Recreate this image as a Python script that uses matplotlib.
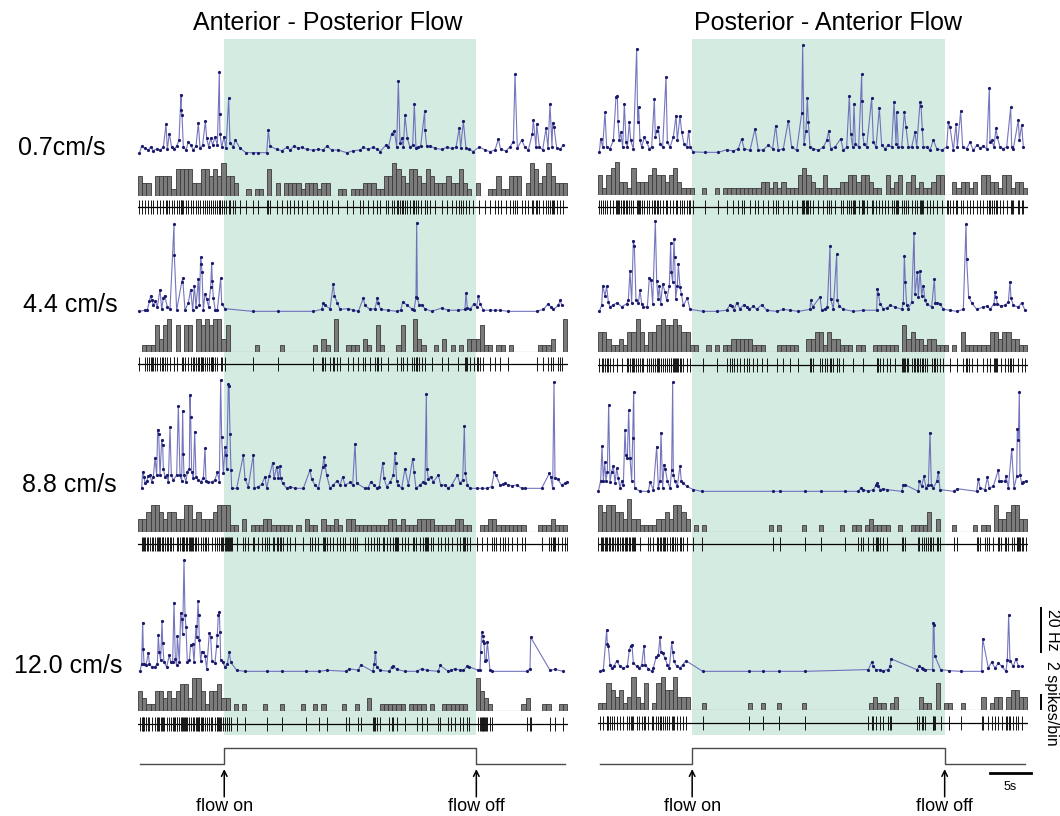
import numpy as np
import matplotlib
matplotlib.use("Agg")
import matplotlib.pyplot as plt

plt.rcParams['font.family'] = ['Liberation Sans', 'DejaVu Sans']

# ------------------------------------------------------------------ data
col_titles = ["Anterior - Posterior Flow", "Posterior - Anterior Flow"]
speed_labels = ["0.7cm/s", "4.4 cm/s", "8.8 cm/s", "12.0 cm/s"]
flow_on = [10.35, 11.3]      # s
flow_off = [40.6, 41.6]      # s
sweep = 51.6                 # s shown per trial
bin_width = 0.5              # s per histogram bin

# instantaneous firing rate: (spike time s, rate Hz)
ap_07 = [(0.16,0.3),(0.44,3.6),(0.84,2.6),(1.24,1.8),(1.52,3.3),(1.84,1.5),(2.24,2.4),(2.64,1.8),(3.04,3.0),(3.36,13.5),(3.52,2.1),(3.76,9.3),(4.04,3.0),(4.32,2.1),(4.64,3.6),(4.92,6.3),(5.16,27.0),(5.20,19.8),(5.28,17.9),(5.44,3.3),(5.76,1.8),(6.04,5.6),(6.32,4.1),(6.64,1.8),(6.96,3.6),(7.24,14.1),(7.44,2.6),(7.76,4.1),(8.08,15.0),(8.24,7.1),(8.48,3.3),(8.72,7.1),(8.96,4.1),(9.24,7.8),(9.52,4.1),(9.76,37.1),(9.80,18.3),(9.84,9.3),(10.04,3.0),(10.32,7.8),(10.56,2.6),(10.88,25.4),(11.04,5.1),(11.44,3.3),(11.68,6.3),(12.24,2.6),(12.96,0.6),(13.76,0.6),(14.44,0.6),(15.44,0.6),(15.64,10.8),(15.84,3.6),(16.64,2.1),(17.24,1.5),(17.84,3.0),(18.24,1.8),(18.72,3.6),(19.24,2.6),(19.64,3.0),(20.24,2.1),(20.96,1.8),(21.64,2.1),(22.24,1.8),(22.64,3.6),(23.24,1.8),(24.04,1.8),(25.04,0.6),(25.84,1.5),(26.64,1.8),(27.04,3.0),(27.64,2.1),(28.16,3.0),(28.64,2.4),(29.04,1.1),(29.76,4.1),(30.04,3.0),(30.44,9.3),(30.76,10.5),(31.04,3.3),(31.24,33.0),(31.44,4.8),(31.64,7.1),(31.84,3.3),(32.04,17.6),(32.32,7.1),(32.64,3.0),(32.96,4.1),(33.16,22.8),(33.36,2.6),(33.64,3.3),(33.92,3.6),(34.40,19.5),(34.44,10.8),(34.64,3.6),(35.04,3.6),(35.64,2.6),(36.44,2.1),(37.04,3.0),(37.64,2.6),(38.16,3.0),(38.56,12.0),(38.72,2.6),(39.04,14.9),(39.36,2.6),(39.76,2.1),(40.24,1.1),(40.96,3.3),(41.64,1.8),(42.24,1.1),(42.84,1.8),(43.24,6.8),(43.52,2.1),(44.16,1.4),(44.64,3.3),(45.04,5.6),(45.24,36.3),(45.52,2.6),(46.04,6.3),(46.44,3.0),(46.84,1.8),(47.32,9.3),(47.44,15.3),(47.76,3.0),(47.84,13.8),(48.16,3.3),(48.56,1.8),(48.96,11.6),(49.20,2.6),(49.44,22.8),(49.68,3.3),(49.76,14.1),(49.92,12.3),(50.24,2.6),(50.64,2.1),(51.04,4.1)]
pa_07 = [(0.16,0.3),(0.32,6.5),(0.56,2.7),(0.84,18.5),(1.04,2.7),(1.44,2.0),(1.84,5.7),(2.16,25.5),(2.32,26.0),(2.40,14.7),(2.56,5.7),(2.72,9.5),(2.96,2.7),(3.16,22.5),(3.36,5.0),(3.52,2.7),(3.76,14.0),(3.92,5.7),(4.24,2.0),(4.64,47.4),(4.76,14.0),(4.88,20.7),(5.04,5.7),(5.24,2.7),(5.56,7.2),(5.84,5.0),(6.16,2.0),(6.44,2.7),(6.76,24.5),(6.88,7.2),(7.04,10.2),(7.24,11.7),(7.44,4.2),(7.76,2.7),(8.16,34.5),(8.32,5.0),(8.64,2.7),(9.04,7.2),(9.36,17.0),(9.52,5.7),(9.84,17.0),(10.04,9.5),(10.32,4.2),(10.64,2.7),(10.88,10.2),(11.04,2.7),(11.44,0.5),(12.84,0.3),(14.44,0.3),(15.44,1.5),(16.24,0.9),(16.84,2.0),(17.24,6.5),(17.52,2.0),(18.24,1.2),(18.84,11.0),(19.24,1.2),(19.84,1.5),(20.44,3.5),(20.96,2.0),(21.32,12.5),(21.64,1.2),(22.24,2.0),(22.84,14.7),(23.24,2.7),(23.84,1.2),(24.44,18.0),(24.56,48.9),(24.72,4.2),(24.96,10.2),(25.12,25.2),(25.24,14.0),(25.44,2.7),(25.84,2.0),(26.44,1.2),(27.04,2.7),(27.44,5.7),(27.68,9.9),(27.92,2.0),(28.44,2.7),(29.12,6.5),(29.44,1.2),(29.84,2.7),(30.16,26.0),(30.32,8.7),(30.56,2.7),(30.72,22.2),(30.88,4.2),(31.28,2.7),(31.64,35.7),(31.68,23.7),(31.76,8.7),(31.92,4.2),(32.24,2.7),(32.84,24.9),(33.04,5.0),(33.36,2.7),(33.76,20.4),(34.04,3.5),(34.44,2.0),(34.84,3.5),(35.24,2.7),(35.52,23.4),(35.76,4.2),(35.84,18.5),(36.04,2.7),(36.44,2.7),(36.76,18.5),(36.96,11.7),(37.24,2.7),(37.64,2.7),(38.04,9.5),(38.24,2.7),(38.64,23.0),(38.76,21.5),(38.92,11.0),(39.04,2.7),(39.44,2.7),(39.84,1.2),(40.24,6.0),(40.64,2.0),(41.24,1.2),(41.84,2.7),(42.04,14.0),(42.24,11.7),(42.64,1.2),(42.96,13.2),(43.12,2.7),(43.52,18.9),(43.76,2.7),(44.24,2.0),(44.64,5.0),(45.04,1.2),(45.44,3.5),(45.84,2.4),(46.24,3.0),(46.64,2.0),(46.96,29.7),(47.04,5.0),(47.24,5.7),(47.52,2.7),(47.76,11.4),(47.92,7.2),(48.24,2.7),(48.64,2.0),(49.04,2.7),(49.52,20.7),(49.64,2.7),(49.84,2.0),(50.44,15.0),(50.56,5.7),(50.84,12.8),(51.04,2.7)]
ap_44 = [(0.16,0.3),(0.84,0.8),(1.12,1.1),(1.36,4.8),(1.52,7.5),(1.64,5.3),(1.84,3.3),(2.08,4.8),(2.32,2.3),(2.64,10.2),(2.84,1.2),(3.04,6.3),(3.20,7.5),(3.52,2.3),(3.84,1.2),(4.32,39.8),(4.36,25.8),(4.64,0.8),(5.24,13.5),(5.36,15.3),(5.64,0.8),(6.04,4.2),(6.32,10.2),(6.56,0.8),(6.76,11.7),(6.96,2.3),(7.24,15.0),(7.36,3.0),(7.52,24.8),(7.60,21.8),(7.68,18.0),(7.84,0.8),(8.04,8.3),(8.24,6.0),(8.48,2.3),(8.72,11.3),(8.84,22.2),(8.92,14.3),(9.04,6.3),(9.28,0.8),(9.52,0.8),(9.92,15.3),(10.04,3.8),(10.44,1.5),(13.76,0.3),(16.84,0.3),(21.04,0.3),(22.04,1.2),(22.24,4.2),(22.44,3.0),(23.04,1.5),(23.44,12.8),(23.56,7.5),(23.92,4.2),(24.24,1.2),(25.24,1.5),(25.84,0.8),(26.44,0.3),(27.04,6.3),(27.24,3.0),(27.84,1.2),(28.44,1.5),(28.72,6.3),(28.84,4.2),(29.12,1.2),(30.04,0.8),(31.04,0.3),(31.52,0.8),(31.76,4.5),(32.24,3.3),(32.84,1.5),(33.12,0.8),(33.36,6.8),(33.44,40.5),(33.52,6.3),(33.76,3.0),(34.04,3.3),(34.44,1.5),(35.24,0.3),(36.44,1.8),(37.24,0.8),(38.44,0.8),(39.24,1.2),(39.36,8.7),(39.52,1.8),(39.84,1.2),(40.32,3.8),(40.64,2.3),(40.84,7.5),(41.04,3.8),(41.44,0.8),(42.24,0.8),(42.84,0.8),(43.44,0.8),(44.44,0.3),(47.84,0.3),(48.64,1.2),(49.24,3.8),(49.52,2.3),(49.84,1.2),(50.44,3.0),(50.64,5.3),(50.84,3.3)]
pa_44 = [(0.16,0.3),(0.44,3.0),(0.56,11.7),(0.84,7.5),(1.04,11.7),(1.24,4.5),(1.44,2.3),(1.84,3.3),(2.32,4.2),(2.84,2.3),(3.44,3.8),(3.64,5.3),(3.84,18.8),(4.04,4.2),(4.24,32.3),(4.36,30.0),(4.56,5.3),(4.84,4.2),(5.04,9.8),(5.24,3.8),(5.44,2.3),(5.92,2.3),(6.16,15.3),(6.36,14.7),(6.56,3.8),(6.88,41.3),(7.04,14.3),(7.20,6.0),(7.36,11.7),(7.52,3.8),(7.76,12.8),(8.04,9.0),(8.24,5.3),(8.56,12.0),(8.72,31.5),(8.80,18.0),(8.96,13.5),(9.12,33.0),(9.20,24.8),(9.32,6.0),(9.52,12.0),(9.64,21.8),(9.84,11.3),(10.00,8.3),(10.24,3.0),(10.72,6.3),(11.04,1.2),(12.64,0.3),(14.24,0.3),(15.44,0.8),(15.84,3.3),(16.04,2.7),(16.32,0.8),(16.64,4.2),(17.04,1.5),(17.52,3.3),(17.84,2.3),(18.16,1.2),(18.64,2.7),(19.04,1.2),(19.64,3.3),(20.24,0.8),(21.44,0.3),(22.24,1.2),(23.04,0.8),(24.04,0.3),(25.44,1.2),(25.52,5.3),(25.76,2.3),(26.64,6.8),(26.84,0.8),(27.24,1.5),(27.52,2.3),(27.84,30.0),(27.92,6.0),(28.24,1.5),(28.64,26.3),(28.72,5.3),(28.96,2.7),(29.44,1.2),(30.64,0.3),(31.84,0.8),(33.44,0.8),(33.52,10.5),(33.64,8.3),(33.84,3.8),(34.24,1.5),(34.64,1.8),(35.04,3.0),(35.64,2.3),(36.44,1.2),(36.64,4.2),(36.76,25.5),(36.88,13.5),(37.04,3.3),(37.24,1.5),(37.64,4.5),(37.92,36.0),(38.04,8.3),(38.32,18.0),(38.44,6.8),(38.64,18.8),(38.84,7.5),(39.04,12.0),(39.24,5.3),(39.44,3.8),(40.04,2.3),(40.36,15.0),(40.48,4.2),(40.72,4.2),(41.04,3.8),(41.44,1.2),(42.24,0.8),(43.04,0.3),(43.84,1.2),(44.16,39.8),(44.24,24.0),(44.48,6.8),(44.84,4.2),(45.44,1.2),(46.24,2.3),(46.72,2.7),(47.04,1.2),(47.52,3.8),(47.64,9.3),(47.76,6.8),(47.92,3.8),(48.32,2.7),(48.84,3.0),(49.24,4.5),(49.44,13.8),(49.56,6.3),(49.84,3.0),(50.44,2.3),(50.84,4.2),(51.24,0.8)]
ap_88 = [(0.44,0.3),(0.56,7.8),(0.72,5.6),(0.84,2.6),(1.04,3.6),(1.24,6.0),(1.44,6.3),(1.64,3.3),(1.84,5.6),(2.04,14.1),(2.24,6.3),(2.36,27.0),(2.48,25.1),(2.64,6.3),(2.84,22.1),(2.96,19.8),(3.04,9.3),(3.24,5.6),(3.44,6.3),(3.64,3.3),(3.84,28.1),(4.00,6.3),(4.24,4.1),(4.64,6.3),(4.84,37.8),(5.04,6.3),(5.24,3.6),(5.36,35.6),(5.44,16.1),(5.52,6.3),(5.76,3.3),(5.92,7.8),(6.16,9.3),(6.24,42.6),(6.32,32.6),(6.44,7.8),(6.64,4.8),(6.80,26.1),(6.96,5.6),(7.24,4.1),(7.52,3.3),(7.84,4.8),(8.04,18.6),(8.16,3.6),(8.44,3.3),(8.84,3.0),(9.24,4.1),(9.52,7.8),(9.76,3.3),(9.92,49.5),(10.04,23.6),(10.24,7.1),(10.44,19.1),(10.56,15.3),(10.64,9.3),(10.84,47.6),(10.92,46.8),(11.04,25.1),(11.16,8.6),(11.24,0.3),(11.84,0.3),(12.64,15.3),(12.84,4.5),(13.24,1.1),(13.84,15.6),(13.96,0.3),(14.44,1.1),(14.84,2.1),(15.24,5.6),(15.44,0.3),(15.76,6.0),(16.16,12.0),(16.32,4.8),(16.64,10.1),(16.84,4.8),(17.04,10.5),(17.12,4.8),(17.36,2.6),(17.84,0.3),(18.24,1.1),(18.84,0.3),(19.84,0.3),(20.64,8.6),(20.84,4.5),(21.24,1.8),(21.64,0.3),(22.16,10.1),(22.32,14.6),(22.44,10.8),(22.64,6.3),(23.04,0.3),(23.44,1.8),(23.84,3.6),(24.24,1.8),(24.56,5.6),(24.84,1.8),(25.44,3.0),(25.76,1.8),(26.04,20.6),(26.24,2.6),(27.24,0.3),(27.64,0.6),(27.92,3.3),(28.32,1.8),(28.72,0.3),(28.96,1.1),(29.36,12.0),(29.52,4.8),(29.84,1.1),(30.24,3.0),(30.64,6.3),(30.84,16.5),(30.92,12.0),(31.04,3.6),(31.24,1.8),(31.64,0.3),(32.04,9.3),(32.44,1.8),(32.96,13.8),(33.12,7.8),(33.36,0.3),(33.84,1.8),(34.16,3.0),(34.44,2.6),(34.60,43.1),(34.68,9.3),(34.84,4.5),(35.12,5.6),(35.44,3.3),(36.04,6.3),(36.32,1.8),(36.84,1.8),(37.24,0.3),(37.64,1.8),(38.32,6.3),(38.64,2.6),(38.96,4.1),(39.16,28.8),(39.28,7.1),(39.52,1.8),(39.84,0.3),(40.64,0.3),(41.24,0.3),(41.84,0.3),(42.44,1.1),(42.76,7.8),(42.96,6.3),(43.44,1.8),(43.76,2.1),(44.04,2.6),(44.44,1.8),(44.84,1.5),(45.44,1.8),(46.04,0.3),(46.44,0.3),(48.44,0.3),(49.36,7.1),(49.52,5.6),(49.76,0.3),(49.92,48.6),(50.04,4.8),(50.36,4.5),(50.84,1.8),(51.24,2.6),(51.52,3.3)]
pa_88 = [(0.04,0.3),(0.32,5.1),(0.48,20.9),(0.64,5.1),(0.80,13.5),(0.96,5.1),(1.12,9.3),(1.28,39.6),(1.44,4.5),(1.64,9.3),(1.84,12.0),(2.04,4.1),(2.24,10.8),(2.44,6.3),(2.64,1.8),(2.84,5.1),(3.04,3.0),(3.24,28.1),(3.36,16.8),(3.52,15.3),(3.68,37.1),(3.84,15.3),(4.04,5.1),(4.16,24.6),(4.28,45.6),(4.40,1.8),(5.04,0.3),(6.04,0.3),(6.24,4.5),(6.64,1.1),(7.04,20.6),(7.24,1.8),(7.44,5.1),(7.56,27.0),(7.76,1.8),(7.92,12.3),(8.08,10.5),(8.32,5.1),(8.64,1.8),(8.84,10.1),(8.96,49.8),(9.04,7.8),(9.24,4.8),(9.52,2.6),(9.84,12.0),(10.00,4.8),(10.24,4.1),(10.64,2.6),(11.44,1.1),(12.44,0.3),(21.04,0.3),(21.84,0.3),(24.84,0.3),(26.72,0.3),(29.64,0.3),(31.24,0.3),(31.52,1.8),(31.84,1.1),(32.44,0.3),(33.04,1.1),(33.36,3.0),(33.52,4.1),(33.64,2.6),(33.84,1.1),(34.24,1.5),(34.64,1.1),(36.44,0.3),(36.64,3.0),(36.84,3.3),(38.44,0.3),(38.56,5.1),(38.84,2.6),(39.12,7.1),(39.36,1.8),(39.64,3.0),(39.84,27.0),(40.00,3.3),(40.24,1.8),(40.64,4.8),(40.84,9.3),(41.04,1.1),(42.72,0.3),(43.12,1.5),(45.44,0.3),(45.64,6.0),(45.84,1.8),(46.44,1.1),(46.72,6.6),(46.96,1.8),(47.44,2.6),(48.04,10.1),(48.16,5.1),(48.32,5.1),(48.84,4.8),(48.96,7.5),(49.24,1.8),(49.64,19.5),(49.92,1.8),(50.24,7.1),(50.32,28.8),(50.44,23.6),(50.56,45.3),(50.64,7.8),(50.84,4.1),(51.04,4.5),(51.36,5.1)]
ap_120 = [(0.24,0.3),(0.44,3.8),(0.56,22.5),(0.64,10.5),(0.72,3.8),(0.96,3.0),(1.24,8.7),(1.36,3.8),(1.64,2.3),(2.04,2.3),(2.32,3.8),(2.44,16.8),(2.56,9.0),(2.72,5.3),(2.88,23.3),(2.96,13.2),(3.12,4.5),(3.44,2.3),(3.76,7.8),(3.92,4.5),(4.16,4.5),(4.32,31.5),(4.48,5.7),(4.64,3.0),(4.72,16.2),(4.96,4.5),(5.12,27.0),(5.24,24.0),(5.36,17.3),(5.52,50.7),(5.64,25.8),(5.76,20.3),(5.92,4.5),(6.16,5.3),(6.32,12.3),(6.56,12.8),(6.72,4.5),(6.96,21.0),(7.04,15.8),(7.20,32.3),(7.28,25.8),(7.36,14.7),(7.52,4.8),(7.68,9.3),(7.84,9.3),(8.04,7.5),(8.24,1.5),(8.56,17.7),(8.72,15.8),(8.88,4.8),(9.24,4.2),(9.44,12.0),(9.52,17.0),(9.64,25.8),(9.76,27.3),(9.84,18.0),(9.92,5.3),(10.16,4.5),(10.44,2.3),(10.72,3.8),(10.96,9.0),(11.12,4.5),(11.84,0.8),(12.84,0.3),(15.44,0.3),(17.24,0.3),(20.12,0.3),(21.76,0.3),(22.64,0.8),(24.96,0.3),(25.36,1.5),(26.44,0.8),(26.72,3.3),(28.16,0.3),(28.36,3.8),(28.48,9.3),(28.64,2.3),(29.04,0.8),(30.16,0.3),(30.44,2.3),(30.64,2.7),(31.04,1.2),(32.04,0.3),(33.44,0.3),(34.04,1.5),(34.64,0.8),(36.04,0.3),(36.24,3.0),(37.24,0.3),(37.52,0.8),(38.04,1.5),(38.64,0.8),(39.04,0.8),(39.52,2.7),(39.76,2.3),(40.84,0.8),(41.04,0.8),(41.12,9.0),(41.24,18.0),(41.36,16.5),(41.44,14.3),(41.52,13.2),(41.64,4.8),(41.76,5.3),(41.92,13.8),(42.24,0.8),(42.44,0.3),(46.64,0.3),(47.04,1.5),(47.12,15.8),(49.44,0.8),(50.04,1.2),(51.04,0.3)]
pa_120 = [(0.24,0.3),(0.64,1.1),(1.04,19.1),(1.12,12.6),(1.24,11.6),(1.44,3.3),(1.64,1.8),(1.92,2.6),(2.24,5.1),(2.64,2.6),(3.04,1.8),(3.52,2.6),(3.76,10.1),(3.92,12.0),(4.08,12.3),(4.24,4.1),(4.64,2.6),(4.96,1.8),(5.24,3.0),(5.52,12.0),(5.64,3.3),(6.04,1.5),(6.44,0.3),(6.64,1.8),(6.96,6.6),(7.24,7.8),(7.44,16.1),(7.56,9.3),(7.76,8.6),(8.04,6.3),(8.32,3.3),(8.56,1.8),(8.84,13.5),(8.96,9.3),(9.12,4.8),(9.44,2.6),(9.84,1.8),(10.16,3.3),(10.56,5.1),(12.56,0.3),(18.16,0.3),(19.84,0.3),(21.76,0.3),(24.84,0.3),(32.44,1.1),(32.84,4.5),(33.04,2.6),(33.36,1.1),(33.84,1.1),(34.16,0.6),(34.84,1.1),(35.04,2.6),(35.16,6.0),(38.24,1.1),(38.56,2.6),(38.84,1.8),(39.04,1.5),(39.24,1.1),(40.16,1.1),(40.24,22.5),(40.32,21.3),(40.40,7.5),(41.12,1.1),(42.16,0.6),(43.52,0.3),(46.04,0.3),(46.16,15.0),(46.84,1.8),(47.24,4.5),(47.64,1.8),(48.04,4.1),(48.44,2.6),(48.96,0.3),(49.12,5.6),(49.28,25.8),(49.44,5.1),(49.84,2.6),(50.16,6.0),(50.44,2.6),(50.84,2.6)]

# spike counts per 0.5 s bin
ap_07_counts = [3,2,2,0,3,3,3,3,1,4, 4,4,4,2,2,4,4,3,4,3, 5,3,3,2,0,0,1,0,1,1,
                0,4,0,2,0,2,2,2,2,1, 2,2,2,1,2,2,0,0,1,1, 0,1,1,1,2,2,2,1,1,3,
                3,5,4,3,2,4,4,3,2,4, 3,2,2,2,3,2,2,4,2,1, 0,2,0,0,1,1,3,1,1,3,
                3,3,0,2,5,4,2,3,5,3, 2,2,2]
pa_07_counts = [3,1,3,4,5,2,2,1,4,2, 2,2,3,4,3,3,2,3,4,2, 1,1,1,0,0,1,0,0,1,0,
                1,1,1,1,1,1,1,1,1,2, 2,1,2,1,2,1,1,1,3,4, 3,2,1,1,3,1,1,1,2,2,
                3,3,2,3,3,2,1,1,0,3, 1,2,3,0,2,3,1,2,1,1, 2,3,3,0,0,2,1,2,2,1,
                2,0,3,3,2,2,1,3,3,1, 2,2,1]
ap_44_counts = [0,1,1,1,4,2,4,5,0,4, 0,4,4,0,5,4,5,4,5,5, 2,4,0,0,0,0,0,0,1,0,
                0,0,0,0,1,0,0,0,0,0, 0,0,1,0,2,1,0,5,0,0, 1,1,1,0,2,1,0,4,1,0,
                0,0,1,4,0,0,5,2,1,0, 0,1,0,2,0,1,0,1,0,2, 2,2,4,1,1,0,1,1,0,1,
                0,0,0,0,0,0,1,1,1,2, 0,0,5]
pa_44_counts = [3,3,2,1,1,2,1,3,3,5, 3,1,3,3,4,5,4,4,5,4, 3,3,1,1,0,0,1,0,1,0,
                1,1,2,2,2,2,2,1,1,1, 0,0,0,1,1,1,1,1,0,0, 2,2,3,3,1,3,2,2,1,1,
                1,0,1,1,0,0,1,1,1,1, 1,1,0,4,2,3,2,2,1,2, 2,1,1,1,0,1,0,3,1,1,
                1,1,1,1,3,3,2,3,3,2, 2,1,1]
ap_88_counts = [2,2,3,4,4,3,2,3,3,2, 2,4,4,2,3,2,2,2,3,4, 4,4,1,1,0,2,0,1,1,1,
                2,2,1,1,1,1,1,0,1,0, 2,1,1,0,2,1,1,2,1,0, 2,2,1,1,1,1,1,1,1,1,
                2,2,1,2,1,1,1,2,2,2, 2,1,1,1,1,1,2,2,1,1, 0,0,1,1,2,2,1,1,1,1,
                1,1,1,0,0,0,1,1,1,2, 1,1,1]
pa_88_counts = [4,3,4,4,3,3,2,5,2,2, 1,1,1,1,2,2,3,2,4,4, 3,2,0,1,0,1,0,0,0,0,
                0,0,0,0,0,0,0,0,0,0, 0,1,0,1,0,0,0,0,0,1, 0,0,0,1,0,0,0,0,1,0,
                0,1,1,0,1,2,1,1,1,1, 0,0,1,0,0,1,1,1,1,3, 0,2,0,0,0,1,0,0,0,0,
                1,0,1,1,0,4,2,2,3,4, 4,2,2]
ap_120_counts = [3,2,1,1,3,3,2,3,2,3, 4,4,2,5,5,3,1,3,3,4, 2,2,0,1,0,1,0,0,0,0,
                 1,0,0,0,1,0,0,0,0,1, 0,0,1,0,1,0,0,0,0,1, 0,0,1,0,0,2,0,0,1,1,
                 1,1,1,1,0,1,1,1,1,0, 1,0,0,1,1,1,1,1,1,0, 0,5,3,2,1,0,0,0,0,0,
                 0,0,1,2,0,0,0,1,1,0, 0,1,1]
pa_120_counts = [1,1,4,3,2,3,1,2,5,2, 1,4,0,1,4,5,3,3,5,2, 2,2,0,0,0,1,0,0,0,0,
                 0,0,0,0,0,0,1,0,0,1, 0,0,0,1,0,0,0,0,0,1, 0,0,0,0,0,0,0,0,0,0,
                 0,0,0,0,0,1,2,1,1,0, 1,2,0,0,0,0,0,2,1,1, 0,4,0,1,1,0,0,1,0,0,
                 0,0,2,0,1,2,2,0,2,3, 3,2,2]

rates = [[ap_07, ap_44, ap_88, ap_120], [pa_07, pa_44, pa_88, pa_120]]
counts = [[ap_07_counts, ap_44_counts, ap_88_counts, ap_120_counts],
          [pa_07_counts, pa_44_counts, pa_88_counts, pa_120_counts]]

# ------------------------------------------------------------------ layout (pixels)
W, H = 1060, 816
PX_S = 430 / sweep     # px per second
PX_HZ = 44 / 20        # px per Hz
PX_CNT = 6.7           # px per spike
col_x = [138, 598]
# per column, per row: (rate zero line, histogram base, raster centre)
rows_px = [[(154, 196, 207), (312, 352, 364), (489, 532, 544), (672, 711, 724)],
           [(153, 195, 207), (312, 352, 365), (492, 532, 544), (672, 710, 723)]]
label_px = [(62, 148), (70, 305), (69, 485), (68, 666)]

SHADE = '#d4ebe2'
LINE = '#5d5db3'
DOT = '#1b1b6b'
BAR = '#7b7b7b'
BAR_EDGE = '#3a3a3a'

fig = plt.figure(figsize=(W / 100, H / 100), dpi=100)


def add_px_axes(x0, top, width, height):
    ax = fig.add_axes([x0 / W, 1 - (top + height) / H, width / W, height / H])
    ax.set_axis_off()
    ax.set_xlim(0, sweep)
    return ax


for c in range(2):
    x0 = col_x[c]
    # flow period shading behind all traces of the column
    sh = add_px_axes(x0, 39, 430, 696)
    sh.set_ylim(0, 1)
    sh.axvspan(flow_on[c], flow_off[c], color=SHADE, lw=0)

    for r in range(4):
        zero_y, base_y, mid_y = rows_px[c][r]
        t = np.array([p[0] for p in rates[c][r]])
        hz = np.array([p[1] for p in rates[c][r]])

        # instantaneous frequency
        fa = add_px_axes(x0, zero_y - 130, 430, 130)
        fa.set_ylim(0, 130 / PX_HZ)
        fa.plot(t, hz, '-', color=LINE, lw=0.8, alpha=0.85, clip_on=False)
        fa.plot(t, hz, 'o', color=DOT, ms=2.3, mew=0, clip_on=False)

        # spike-count histogram
        n = np.array(counts[c][r])
        edges = np.arange(len(n)) * bin_width
        ha = add_px_axes(x0, base_y - 40, 430, 40)
        ha.set_ylim(0, 40 / PX_CNT)
        ha.axhline(0, color='#555555', lw=0.8)
        ha.bar(edges, n, width=bin_width, align='edge', color=BAR,
               edgecolor=BAR_EDGE, linewidth=0.6)

        # spike raster
        ra = add_px_axes(x0, mid_y - 8, 430, 16)
        ra.set_ylim(-1, 1)
        ra.axhline(0, color='black', lw=0.9)
        ra.vlines(t, -0.9, 0.9, color='#151515', lw=0.7)

        if c == 1 and r == 3:
            # calibration bars
            xs = (1041 - x0) / PX_S
            fa.plot([xs, xs], [9, 29], color='black', lw=1.4, clip_on=False)
            fa.text((1052 - x0) / PX_S, (zero_y - 630) / PX_HZ, '20 Hz',
                    rotation=270, ha='center', va='center', fontsize=11.5)
            ha.plot([xs, xs], [0.2, 2.2], color='black', lw=1.4, clip_on=False)
            ha.text((1052 - x0) / PX_S, (base_y - 703) / PX_CNT, '2 spikes/bin',
                    rotation=270, ha='center', va='center', fontsize=11.5)

    # stimulus (flow) trace
    st = add_px_axes(x0, 740, 430, 76)
    st.set_ylim(-3.25, 1.5)
    st.plot([0.25, flow_on[c], flow_on[c], flow_off[c], flow_off[c], sweep - 0.4],
            [0, 0, 1, 1, 0, 0], color='#4a4a4a', lw=1.0, clip_on=False)
    for xt, lab in ((flow_on[c], 'flow on'), (flow_off[c], 'flow off')):
        st.annotate('', xy=(xt, -0.32), xytext=(xt, -2.05),
                    arrowprops=dict(arrowstyle='->', color='black', lw=1.1,
                                    shrinkA=0, shrinkB=0))
        st.text(xt, -2.65, lab, ha='center', va='center', fontsize=13)
    if c == 1:
        st.plot([47.0, 52.0], [-0.56, -0.56], color='black', lw=2.0, clip_on=False)
        st.text(49.5, -1.45, '5s', ha='center', va='center', fontsize=9)

# column titles and speed labels
fig.text(328 / W, 1 - 23 / H, col_titles[0], ha='center', va='center', fontsize=18)
fig.text(828 / W, 1 - 23 / H, col_titles[1], ha='center', va='center', fontsize=18)
for lab, (lx, ly) in zip(speed_labels, label_px):
    fig.text(lx / W, 1 - ly / H, lab, ha='center', va='center', fontsize=18)

fig.savefig('out.png', dpi=100, facecolor='white')
